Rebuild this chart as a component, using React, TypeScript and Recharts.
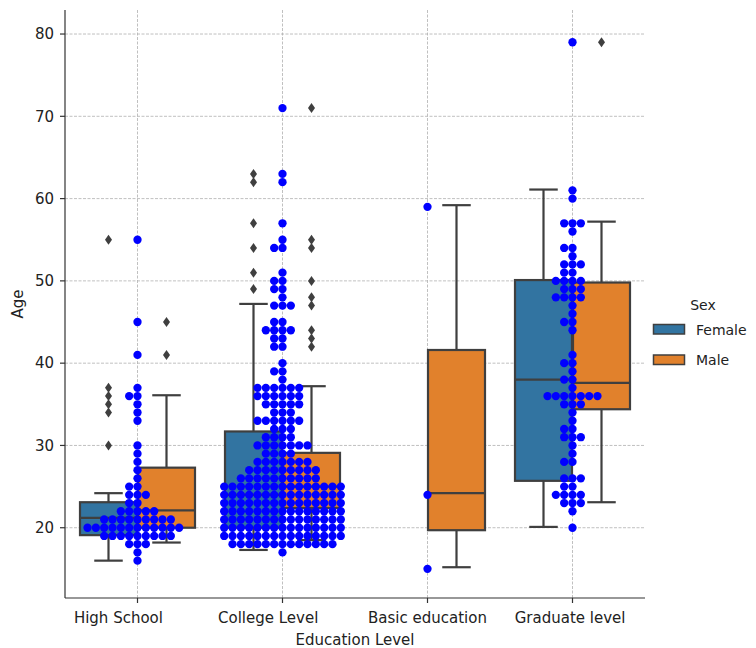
import React from "react";
import {
  ComposedChart,
  Bar,
  Scatter,
  XAxis,
  YAxis,
  CartesianGrid,
} from "recharts";

const FONT = "DejaVu Sans, sans-serif";
const EDGE = "#3f3f3f";
const FEMALE = "#3274a1";
const MALE = "#e1812c";

const categories = ["High School", "College Level", "Basic education", "Graduate level"];
// the source labels carry trailing blanks, which push them left of their ticks
const tickLabels = [
  "High School\u00a0\u00a0\u00a0\u00a0\u00a0\u00a0\u00a0\u00a0",
  "College Level\u00a0\u00a0\u00a0\u00a0\u00a0\u00a0",
  "Basic education",
  "Graduate level\u00a0",
];

// box stats: [whiskerLow, q1, median, q3, whiskerHigh]
const femaleStats = [
  [16, 19.1, 21.2, 23.1, 24.2],
  [17.3, 20, 24, 31.7, 47.2],
  null,
  [20.1, 25.7, 38, 50.1, 61.1],
];
const maleStats = [
  [18.2, 20, 22.1, 27.3, 36.1],
  [18.5, 22.4, 25, 29.1, 37.2],
  [15.2, 19.7, 24.2, 41.6, 59.2],
  [23.1, 34.4, 37.6, 49.8, 57.2],
];
const femaleFliers = [[30, 34, 35, 36, 37, 55], [49, 51, 54, 57, 62, 63], [], []];
const maleFliers = [[41, 45], [42, 43, 44, 47, 48, 50, 54, 55, 71], [], [79]];

// swarm: [age, number of people]
const highSchoolAges = [
  [16, 1], [17, 1], [18, 3], [19, 9], [20, 12], [21, 9], [22, 5], [23, 2], [24, 3],
  [25, 2], [26, 1], [27, 1], [28, 1], [29, 1], [30, 1], [33, 1], [34, 1], [35, 1],
  [36, 2], [37, 1], [41, 1], [45, 1], [55, 1],
];
const collegeAges = [
  [17, 1], [18, 13], [19, 15], [20, 15], [21, 15], [22, 15], [23, 15], [24, 15],
  [25, 15], [26, 10], [27, 9], [28, 7], [29, 4], [30, 7], [31, 4], [32, 3], [33, 6],
  [34, 3], [35, 5], [36, 6], [37, 6], [38, 1], [39, 2], [40, 1], [42, 2], [43, 2],
  [44, 4], [45, 2], [47, 3], [48, 1], [49, 2], [50, 2], [51, 1], [54, 2], [55, 1],
  [57, 1], [62, 1], [63, 1], [71, 1],
];
const basicAges = [[15, 1], [24, 1], [59, 1]];
const graduateAges = [
  [20, 1], [22, 1], [23, 3], [24, 4], [25, 2], [26, 3], [28, 2], [29, 1], [30, 1],
  [31, 3], [32, 2], [33, 1], [34, 1], [35, 3], [36, 7], [37, 1], [38, 2], [39, 1],
  [40, 2], [41, 1], [44, 1], [45, 2], [46, 1], [47, 1], [48, 4], [49, 3], [50, 4],
  [51, 2], [52, 3], [53, 1], [54, 2], [56, 1], [57, 3], [60, 1], [61, 1], [79, 1],
];

const yTicks = [20, 30, 40, 50, 60, 70, 80];

const rows = categories.map((name, i) => ({
  name,
  female: femaleStats[i],
  male: maleStats[i],
  femaleFliers: femaleFliers[i],
  maleFliers: maleFliers[i],
}));

const swarmPoints = [highSchoolAges, collegeAges, basicAges, graduateAges].flatMap((list, i) =>
  list.flatMap(([age, n]) =>
    Array.from({ length: n }, (_, k) => ({
      x: i,
      y: age,
      slot: k % 2 === 1 ? -(k + 1) / 2 : k / 2,
    }))
  )
);

const DOT_STEP = 8.33;

function BoxShape(props: any) {
  const { x, y, width, height, payload, side, fill } = props;
  const s = payload && payload[side];
  if (!s || !height) return null;
  const [lo, q1, med, q3, hi] = s;
  const k = height / (q3 - q1);
  const py = (v: number) => y + (q3 - v) * k;
  const cx = x + width / 2;
  const cap = width / 4;
  const fliers: number[] = payload[side + "Fliers"] || [];
  const line = { stroke: EDGE, strokeWidth: 2.2 };
  return (
    <g>
      <line x1={cx} x2={cx} y1={py(hi)} y2={y} {...line} />
      <line x1={cx} x2={cx} y1={y + height} y2={py(lo)} {...line} />
      <line x1={cx - cap} x2={cx + cap} y1={py(hi)} y2={py(hi)} {...line} />
      <line x1={cx - cap} x2={cx + cap} y1={py(lo)} y2={py(lo)} {...line} />
      <rect x={x} y={y} width={width} height={height} fill={fill} {...line} />
      <line x1={x} x2={x + width} y1={py(med)} y2={py(med)} {...line} />
      {fliers.map((v, i) => {
        const fy = py(v);
        return (
          <path
            key={i}
            d={`M${cx},${fy - 5} L${cx + 3.5},${fy} L${cx},${fy + 5} L${cx - 3.5},${fy} Z`}
            fill={EDGE}
          />
        );
      })}
    </g>
  );
}

function SwarmDot(props: any) {
  const { cx, cy, payload } = props;
  if (cx == null || cy == null) return null;
  return <circle cx={cx + payload.slot * DOT_STEP} cy={cy} r={4.15} fill="#0000ff" />;
}

const tickStyle = { fill: "#222", fontSize: 15, fontFamily: FONT };

export default function App() {
  return (
    <div style={{ position: "absolute", left: 0, top: 0, width: 756, height: 648, background: "#fff" }}>
      <ComposedChart
        width={756}
        height={648}
        data={rows}
        margin={{ top: 10, right: 111, bottom: 0, left: 0 }}
        barSize={57}
        barGap={1}
      >
        <XAxis
          dataKey="name"
          type="category"
          height={50}
          tickSize={5}
          tickMargin={9}
          interval={0}
          tick={tickStyle}
          tickFormatter={(_v: any, i: number) => tickLabels[i]}
          axisLine={{ stroke: "#333", strokeWidth: 1.2 }}
          tickLine={{ stroke: "#333", strokeWidth: 1.2 }}
          label={{
            value: "Education Level",
            position: "insideBottom",
            offset: 3,
            style: { fill: "#222", fontSize: 15, fontFamily: FONT },
          }}
        />
        <XAxis xAxisId="swarm" type="number" dataKey="x" domain={[-0.5, 3.5]} allowDataOverflow hide />
        <YAxis
          type="number"
          dataKey="y"
          width={65}
          domain={[11.46, 82.92]}
          allowDataOverflow
          ticks={yTicks}
          interval={0}
          tickSize={5}
          tickMargin={6}
          tick={tickStyle}
          axisLine={{ stroke: "#333", strokeWidth: 1.2 }}
          tickLine={{ stroke: "#333", strokeWidth: 1.2 }}
          label={{
            value: "Age",
            angle: -90,
            position: "insideLeft",
            offset: 18,
            style: { fill: "#222", fontSize: 15, fontFamily: FONT, textAnchor: "middle" },
          }}
        />
        <Bar
          dataKey={(d: any) => (d.female ? [d.female[1], d.female[3]] : null)}
          fill={FEMALE}
          isAnimationActive={false}
          shape={(p: any) => <BoxShape {...p} side="female" fill={FEMALE} />}
        />
        <Bar
          dataKey={(d: any) => (d.male ? [d.male[1], d.male[3]] : null)}
          fill={MALE}
          isAnimationActive={false}
          shape={(p: any) => <BoxShape {...p} side="male" fill={MALE} />}
        />
        <CartesianGrid stroke="#b0b0b0" strokeWidth={0.8} strokeDasharray="3 1.5" syncWithTicks />
        <Scatter
          xAxisId="swarm"
          data={swarmPoints}
          dataKey="y"
          isAnimationActive={false}
          shape={SwarmDot}
        />
      </ComposedChart>
      <svg
        width={111}
        height={100}
        style={{ position: "absolute", left: 645, top: 285 }}
        fontFamily={FONT}
        fontSize={14}
      >
        <text x={58} y={20} textAnchor="middle" dominantBaseline="central" fill="#222">
          Sex
        </text>
        <rect x={8.5} y={39.5} width={31} height={9.5} fill={FEMALE} stroke={EDGE} strokeWidth={1.5} />
        <text x={51} y={44.5} dominantBaseline="central" fill="#222">
          Female
        </text>
        <rect x={8.5} y={70} width={31} height={9.5} fill={MALE} stroke={EDGE} strokeWidth={1.5} />
        <text x={51} y={75} dominantBaseline="central" fill="#222">
          Male
        </text>
      </svg>
    </div>
  );
}
